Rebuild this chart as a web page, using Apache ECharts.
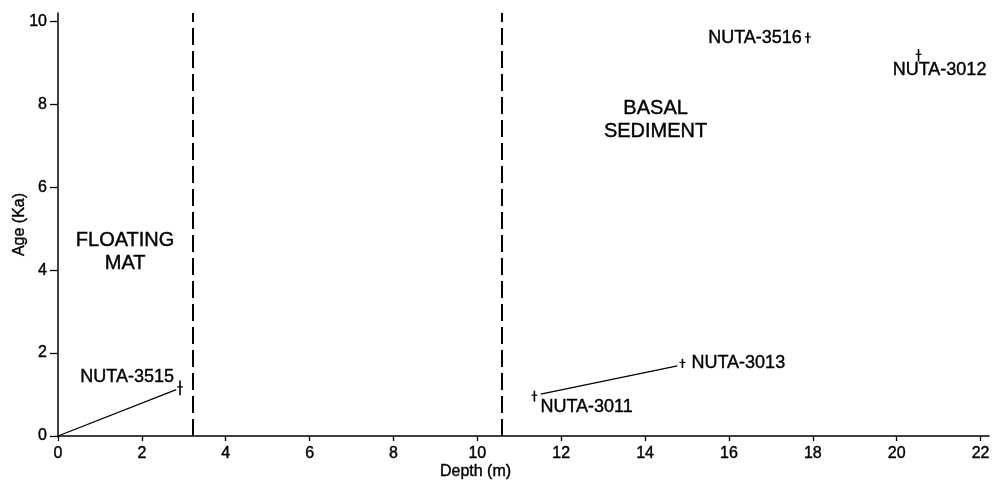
<!DOCTYPE html>
<html>
<head>
<meta charset="utf-8">
<script src="https://cdn.jsdelivr.net/npm/echarts@6/dist/echarts.min.js"></script>
<style>
  html, body { margin: 0; padding: 0; background: #fff; }
  #chart { width: 996px; height: 481px; }
</style>
</head>
<body>
<div id="chart"></div>
<script>
// radiocarbon samples: depth (m), age (ka), half error bar (ka)
var sampleNames = ['NUTA-3515', 'NUTA-3011', 'NUTA-3013', 'NUTA-3516', 'NUTA-3012'];
var sampleDepth = [2.91, 11.36, 14.89, 17.88, 20.52];
var sampleAge = [1.16, 0.96, 1.75, 9.6, 9.18];
var sampleErr = [0.18, 0.13, 0.11, 0.13, 0.15];
var labelPos = ['left', 'right', 'right', 'left', 'bottom'];

// accumulation lines
var floatingLine = [[0, 0], [2.82, 1.12]];
var basalLine = [[11.51, 1.01], [14.77, 1.69]];

// boundaries (dashed)
var boundaries = [3.22, 10.57];

// zone annotations
var zoneNames = ['FLOATING\nMAT', 'BASAL\nSEDIMENT'];
var zoneDepth = [1.6, 14.25];
var zoneAge = [4.43, 7.63];

var xTicks = [0, 2, 4, 6, 8, 10, 12, 14, 16, 18, 20, 22];
var yTicks = [0, 2, 4, 6, 8, 10];

var font = 'Liberation Sans, Arial, Helvetica, sans-serif';
var ink = '#000';

var chart = echarts.init(document.getElementById('chart'));

var labelOffsets = [[0, -11], [0, 11], [3, 0], [0, 0], [21, 0]];

// scanned print is a bit heavier than the plain font
var heavy = { textBorderColor: ink, textBorderWidth: 0.4 };

var option = {
    animation: false,
    backgroundColor: '#fff',
    grid: { left: 58, right: 7, top: 13, bottom: 45, outerBoundsMode: 'none', containLabel: false },
    xAxis: {
        type: 'value',
        min: 0,
        max: 22.2,
        name: 'Depth (m)',
        nameLocation: 'middle',
        nameGap: 28,
        nameMoveOverlap: false,
        nameTextStyle: Object.assign({ fontFamily: font, fontSize: 16, color: ink, padding: [0, 96, 0, 0] }, heavy),
        splitLine: { show: false },
        axisLine: { lineStyle: { color: ink, width: 1.5 } },
        axisTick: { inside: false, length: 5, lineStyle: { color: ink, width: 1.3 }, customValues: xTicks },
        axisLabel: Object.assign({ fontFamily: font, fontSize: 16, color: ink, margin: 10, customValues: xTicks }, heavy)
    },
    yAxis: {
        type: 'value',
        min: 0,
        max: 10.2,
        name: 'Age (Ka)',
        nameLocation: 'middle',
        nameGap: 30,
        nameRotate: 90,
        nameMoveOverlap: false,
        nameTextStyle: Object.assign({ fontFamily: font, fontSize: 16, color: ink }, heavy),
        splitLine: { show: false },
        axisLine: { show: true, lineStyle: { color: ink, width: 1.5 } },
        axisTick: { show: true, inside: false, length: 8, lineStyle: { color: ink, width: 1.3 }, customValues: yTicks },
        axisLabel: Object.assign({ fontFamily: font, fontSize: 16, color: ink, margin: 11, customValues: yTicks }, heavy)
    },
    series: [
        {
            type: 'line',
            data: floatingLine,
            symbol: 'none',
            lineStyle: { color: ink, width: 1.3 },
            markLine: {
                silent: true,
                symbol: 'none',
                label: { show: false },
                lineStyle: { color: ink, width: 2, type: [17, 6] },
                data: boundaries.map(function (d) { return { xAxis: d }; })
            }
        },
        {
            type: 'line',
            data: basalLine,
            symbol: 'none',
            lineStyle: { color: ink, width: 1.3 }
        },
        {
            type: 'custom',
            data: sampleDepth.map(function (d, i) { return [d, sampleAge[i], sampleErr[i]]; }),
            renderItem: function (params, api) {
                var x = api.value(0), y = api.value(1), e = api.value(2);
                var top = api.coord([x, y + e]);
                var bot = api.coord([x, y - e]);
                var mid = api.coord([x, y]);
                return {
                    type: 'group',
                    children: [
                        { type: 'line', shape: { x1: top[0], y1: top[1], x2: bot[0], y2: bot[1] },
                          style: { stroke: ink, lineWidth: 1.6 } },
                        { type: 'line', shape: { x1: mid[0] - 3, y1: mid[1] - 1, x2: mid[0] + 3, y2: mid[1] - 1 },
                          style: { stroke: ink, lineWidth: 1.2 } }
                    ]
                };
            }
        },
        {
            type: 'scatter',
            symbolSize: 0,
            itemStyle: { opacity: 1 },
            data: sampleDepth.map(function (d, i) {
                return {
                    value: [d, sampleAge[i]],
                    name: sampleNames[i],
                    label: { position: labelPos[i], offset: labelOffsets[i] }
                };
            }),
            label: Object.assign({
                show: true,
                formatter: '{b}',
                distance: 6,
                fontFamily: font,
                fontSize: 18,
                color: ink,
                opacity: 1
            }, heavy)
        },
        {
            type: 'scatter',
            symbolSize: 0,
            itemStyle: { opacity: 1 },
            data: zoneDepth.map(function (d, i) {
                return { value: [d, zoneAge[i]], name: zoneNames[i] };
            }),
            label: Object.assign({
                show: true,
                position: 'inside',
                formatter: '{b}',
                fontFamily: font,
                fontSize: 20,
                lineHeight: 23,
                align: 'center',
                color: ink,
                opacity: 1
            }, heavy)
        }
    ]
};

chart.setOption(option);
</script>
</body>
</html>
